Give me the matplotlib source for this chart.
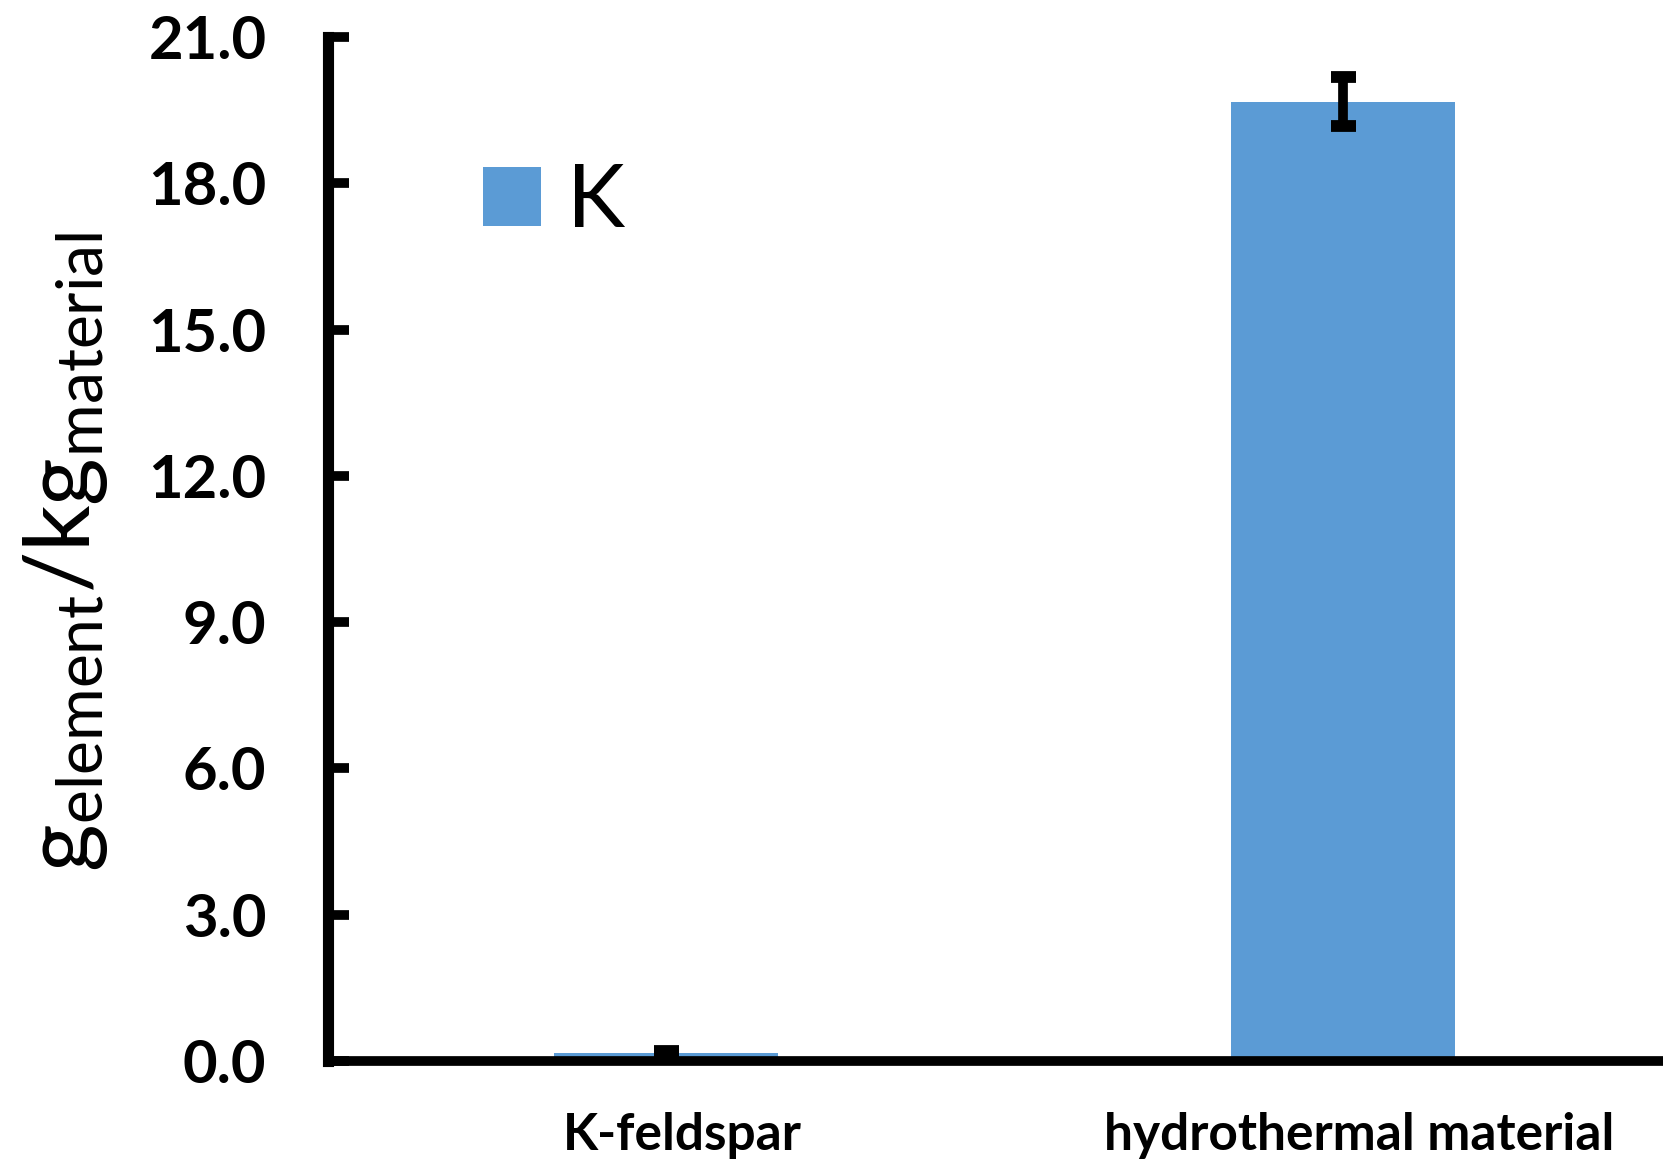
import matplotlib
matplotlib.use("Agg")
import matplotlib.pyplot as plt
import matplotlib.transforms as mtransforms

# ---- data ----
categories = ["K-feldspar", "hydrothermal material"]
values = [0.17, 19.67]
errors = [0.03, 0.50]
series_name = "K"
yticks = [0.0, 3.0, 6.0, 9.0, 12.0, 15.0, 18.0, 21.0]
ytick_labels = ["0.0", "3.0", "6.0", "9.0", "12.0", "15.0", "18.0", "21.0"]

BAR_COLOR = "#5B9BD5"

plt.rcParams["font.family"] = ["Lato", "DejaVu Sans"]
plt.rcParams["mathtext.fontset"] = "custom"
plt.rcParams["mathtext.rm"] = "Lato"
plt.rcParams["mathtext.it"] = "Lato"
plt.rcParams["mathtext.bf"] = "Lato:bold"

fig = plt.figure(figsize=(16.63, 11.63), dpi=100)
ax = fig.add_axes([327.5 / 1663, 1 - 1061 / 1163, 1 - 327.5 / 1663, (1061 - 37) / 1163])

x = [0.5, 1.5]
ax.bar(x, values, width=0.332, color=BAR_COLOR, label=series_name, zorder=2)
ax.errorbar(x, values, yerr=errors, fmt="none", ecolor="black",
            elinewidth=7, capsize=9, capthick=8.5, zorder=3)

ax.set_xlim(0, (1663 - 327.5) / 677)
ax.set_ylim(0, 21)

for s in ["top", "right"]:
    ax.spines[s].set_visible(False)
ax.spines["left"].set_linewidth(8)
ax.spines["bottom"].set_linewidth(7)

ax.set_yticks(yticks)
ax.set_yticklabels(ytick_labels, fontsize=43, fontweight="bold")
ax.tick_params(axis="y", direction="in", length=15, width=7, pad=44)

ax.set_xticks(x)
ax.set_xticklabels(categories, fontsize=37, fontweight="bold")
ax.tick_params(axis="x", length=0, pad=37)
offset = mtransforms.ScaledTranslation(16 / 100, 0, fig.dpi_scale_trans)
for lab in ax.get_xticklabels():
    lab.set_transform(lab.get_transform() + offset)

fig.text(66 / 1663, 1 - 552 / 1163,
         r"$\mathregular{g_{element}/kg_{material}}$",
         rotation=90, ha="center", va="center", fontsize=66)

leg = ax.legend(loc="center left", bbox_to_anchor=(483 / 1663, 1 - 203 / 1163),
                bbox_transform=fig.transFigure, frameon=False, fontsize=63,
                handlelength=0.66, handleheight=0.66, handletextpad=0.3,
                borderpad=0, borderaxespad=0)

fig.savefig("out.png", dpi=100, facecolor="white")
